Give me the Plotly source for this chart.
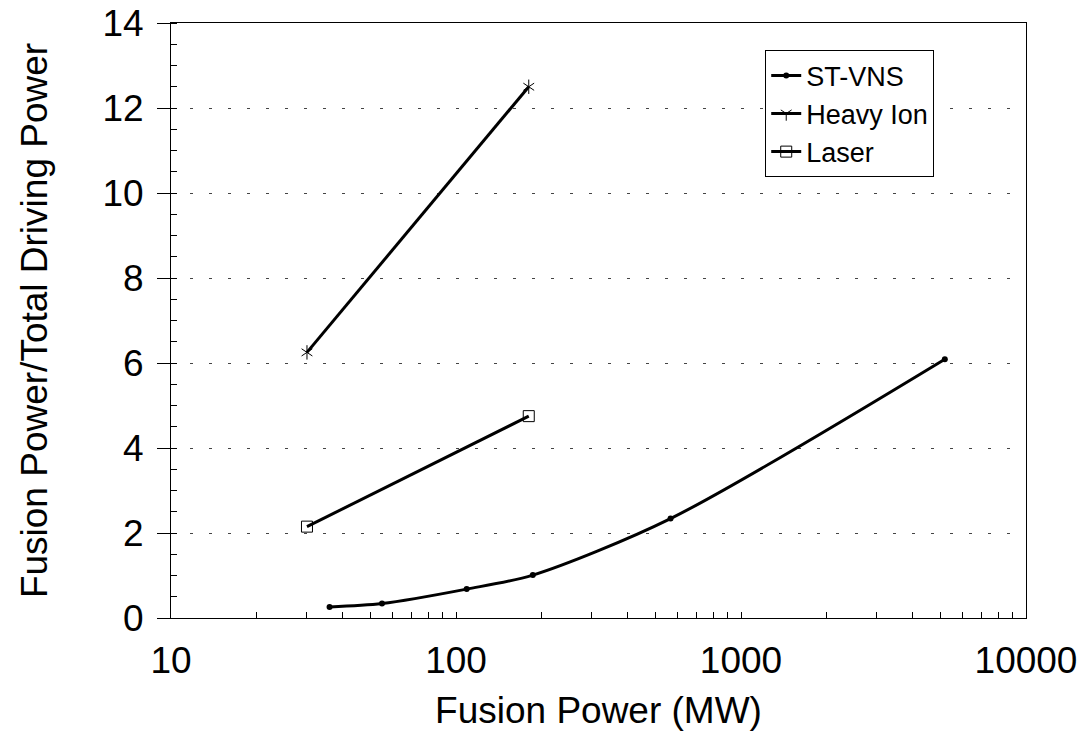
import plotly.graph_objects as go

# ST-VNS
st_power = [36, 55, 109, 186, 566, 5190]
st_ratio = [0.26, 0.34, 0.68, 1.01, 2.34, 6.09]

# Heavy Ion
hi_power = [30, 180]
hi_ratio = [6.25, 12.5]

# Laser
laser_power = [30, 180]
laser_ratio = [2.15, 4.75]

x_ticks = [10, 100, 1000, 10000]
x_minor = [20, 30, 40, 50, 60, 70, 80, 90,
           200, 300, 400, 500, 600, 700, 800, 900,
           2000, 3000, 4000, 5000, 6000, 7000, 8000, 9000]

FONT = "Liberation Sans, Arial, sans-serif"

fig = go.Figure()

fig.add_trace(
    go.Scatter(
        x=st_power, y=st_ratio,
        mode="lines+markers",
        name="ST-VNS",
        line=dict(color="black", width=3, shape="spline", smoothing=0.8),
        marker=dict(symbol="circle", size=6, color="black"),
    )
)

fig.add_trace(
    go.Scatter(
        x=hi_power, y=hi_ratio,
        mode="lines+markers",
        name="Heavy Ion",
        line=dict(color="black", width=3),
        marker=dict(symbol="y-down-open", size=9, color="black",
                    line=dict(color="black", width=1)),
    )
)
# second half of the asterisk marker
fig.add_trace(
    go.Scatter(
        x=hi_power, y=hi_ratio,
        mode="markers",
        showlegend=False,
        marker=dict(symbol="y-up-open", size=9, color="black",
                    line=dict(color="black", width=1)),
    )
)

fig.add_trace(
    go.Scatter(
        x=laser_power, y=laser_ratio,
        mode="lines+markers",
        name="Laser",
        line=dict(color="black", width=3),
        marker=dict(symbol="square-open", size=11, color="black",
                    line=dict(color="black", width=1)),
    )
)

# page body adds an 8px margin, so the figure is a little smaller than the window
fig.update_layout(
    width=1070,
    height=733,
    paper_bgcolor="white",
    plot_bgcolor="white",
    margin=dict(l=163, r=52, t=15, b=123),
    font=dict(family=FONT, size=37, color="black"),
    showlegend=True,
    legend=dict(
        x=0.695, y=0.954,
        xanchor="left", yanchor="top",
        bgcolor="white",
        bordercolor="black",
        borderwidth=1,
        font=dict(size=27),
        tracegroupgap=0,
        itemwidth=30,
    ),
    xaxis=dict(
        type="log",
        range=[1, 4],
        automargin=False,
        tickvals=x_ticks,
        ticktext=[str(v) for v in x_ticks],
        ticklabeloverflow="allow",
        ticks="inside",
        ticklen=6,
        tickcolor="black",
        ticklabelstandoff=10,
        showgrid=False,
        showline=True,
        linecolor="black",
        linewidth=1,
        mirror=True,
        zeroline=False,
        minor=dict(tickvals=x_minor, ticks="inside", ticklen=6,
                   tickcolor="black", showgrid=False),
        title=dict(text="Fusion Power (MW)", font=dict(size=37), standoff=16),
    ),
    yaxis=dict(
        range=[0, 14],
        dtick=2,
        automargin=False,
        ticklabeloverflow="allow",
        ticks="outside",
        ticklen=13,
        tickcolor="black",
        ticklabelstandoff=6,
        showgrid=True,
        gridcolor="#444",
        griddash="3px,16px",
        gridwidth=1,
        showline=True,
        linecolor="black",
        linewidth=1,
        mirror=True,
        zeroline=False,
        minor=dict(dtick=0.5, ticks="inside", ticklen=6,
                   tickcolor="black", showgrid=False),
        title=dict(text="Fusion Power/Total Driving Power", font=dict(size=37),
                   standoff=43),
    ),
)

fig.write_html("out.html")
